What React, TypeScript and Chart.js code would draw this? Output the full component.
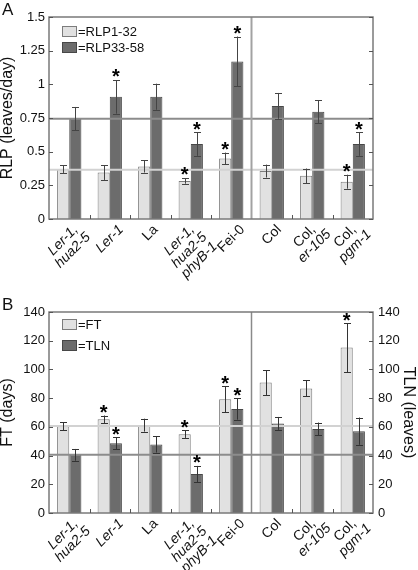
import React, { useEffect, useRef } from "react";
import { Chart, registerables } from "chart.js";
Chart.register(...registerables);

const FONT = "'Liberation Sans', Arial, sans-serif";
Chart.defaults.font.family = FONT;

const categories = ["Ler-1, hua2-5", "Ler-1", "La", "Ler-1, hua2-5 phyB-1", "Fei-0", "Col", "Col, er-105", "Col, pgm-1"];
const categoryLines = [["Ler-1,", "hua2-5"], ["Ler-1"], ["La"], ["Ler-1,", "hua2-5", "phyB-1"], ["Fei-0"], ["Col"], ["Col,", "er-105"], ["Col,", "pgm-1"]];
const categoryItalic = [[true, true], [true], [false], [true, true, true], [false], [false], [false, true], [false, true]];

// Panel A
const rlp1_32 = [0.37, 0.345, 0.39, 0.283, 0.45, 0.356, 0.321, 0.277];
const rlp1_32Err = [0.028, 0.055, 0.045, 0.021, 0.043, 0.048, 0.054, 0.052];
const rlp1_32Star = [false, false, false, true, true, false, false, true];
const rlp33_58 = [0.745, 0.907, 0.908, 0.557, 1.17, 0.84, 0.796, 0.557];
const rlp33_58Err = [0.087, 0.125, 0.097, 0.088, 0.185, 0.096, 0.084, 0.088];
const rlp33_58Star = [false, true, false, true, true, false, false, true];
const rlpRefLines = [0.366, 0.745];
const rlpTickLabels = ["0", "0.25", "0.5", "0.75", "1", "1.25", "1.5"];
const rlpTickValues = [0, 0.25, 0.5, 0.75, 1, 1.25, 1.5];

// Panel B
const ft = [60.4, 65.3, 61.2, 54.9, 79.2, 90.9, 86.8, 115.2];
const ftErr = [2.7, 2.6, 4.5, 2.6, 9.0, 8.7, 5.6, 17.0];
const ftStar = [false, true, false, true, true, false, false, true];
const tln = [40.5, 48.6, 47.7, 27.2, 72.4, 62.4, 58.5, 57.0];
const tlnErr = [4.1, 4.0, 5.6, 5.6, 7.4, 4.5, 4.5, 9.5];
const tlnStar = [false, true, false, true, true, false, false, false];
const ftRefLines = [60.6, 40.5];
const ftTickLabels = ["0", "20", "40", "60", "80", "100", "120", "140"];
const ftTickValues = [0, 20, 40, 60, 80, 100, 120, 140];

const LIGHT = "#e1e1e1";
const LIGHT_BORDER = "#7c7c7c";
const DARK = "#6c6c6c";
const DARK_BORDER = "#474747";
const LABEL_SIZE = 14;
const LABEL_LINE = 14;

function makeDecor(cfg: any) {
  return {
    id: "decor",
    afterDraw(chart: any) {
      const ctx = chart.ctx;
      const a = chart.chartArea;
      const xs = chart.scales.x;
      const ys = chart.scales.y;
      ctx.save();
      // reference lines
      const refCols = ["#d2d2d2", "#8c8c8c"];
      cfg.refLines.forEach((v: number, i: number) => {
        const y = ys.getPixelForValue(v);
        ctx.strokeStyle = refCols[i];
        ctx.lineWidth = 2;
        ctx.beginPath();
        ctx.moveTo(a.left, y);
        ctx.lineTo(a.right, y);
        ctx.stroke();
      });
      // separator
      const sepX = (xs.getPixelForValue(4) + xs.getPixelForValue(5)) / 2;
      ctx.strokeStyle = cfg.sepColor;
      ctx.lineWidth = cfg.sepWidth;
      ctx.beginPath();
      ctx.moveTo(sepX, a.top);
      ctx.lineTo(sepX, a.bottom);
      ctx.stroke();
      // error bars and stars
      cfg.errs.forEach((errArr: number[], d: number) => {
        const meta = chart.getDatasetMeta(d);
        const scale = chart.scales[meta.yAxisID];
        const data = chart.data.datasets[d].data;
        meta.data.forEach((el: any, i: number) => {
          const v = data[i];
          const e = errArr[i];
          const yt = scale.getPixelForValue(v + e);
          const yb = scale.getPixelForValue(v - e);
          const x = Math.round(el.x) + 0.5;
          ctx.strokeStyle = cfg.errColor;
          ctx.lineWidth = 1;
          ctx.beginPath();
          ctx.moveTo(x, yt);
          ctx.lineTo(x, yb);
          ctx.moveTo(x - 3.5, Math.round(yt) + 0.5);
          ctx.lineTo(x + 3.5, Math.round(yt) + 0.5);
          ctx.moveTo(x - 3.5, Math.round(yb) + 0.5);
          ctx.lineTo(x + 3.5, Math.round(yb) + 0.5);
          ctx.stroke();
          if (cfg.stars[d][i]) {
            ctx.fillStyle = "#000";
            ctx.font = "bold 20px " + FONT;
            ctx.textAlign = "center";
            ctx.textBaseline = "alphabetic";
            ctx.fillText("*", el.x, yt - 8 + 0.57 * 20);
          }
        });
      });
      // plot border
      ctx.strokeStyle = "#7a7a7a";
      ctx.lineWidth = 1.5;
      ctx.strokeRect(a.left, a.top, a.right - a.left, a.bottom - a.top);
      // inner y ticks
      ctx.strokeStyle = "#555";
      ctx.lineWidth = 1;
      cfg.tickValues.forEach((v: number) => {
        const y = Math.round(ys.getPixelForValue(v)) + 0.5;
        ctx.beginPath();
        ctx.moveTo(a.left, y);
        ctx.lineTo(a.left + 4, y);
        ctx.moveTo(a.right - 4, y);
        ctx.lineTo(a.right, y);
        ctx.stroke();
      });
      // category boundary ticks
      for (let i = 0; i < categories.length - 1; i++) {
        if (i === 4) continue;
        const x = Math.round((xs.getPixelForValue(i) + xs.getPixelForValue(i + 1)) / 2) + 0.5;
        ctx.beginPath();
        ctx.moveTo(x, a.bottom);
        ctx.lineTo(x, a.bottom - 4);
        ctx.stroke();
      }
      // legend
      const fills = [LIGHT, DARK];
      const borders = [LIGHT_BORDER, DARK_BORDER];
      chart.data.datasets.forEach((ds: any, d: number) => {
        const bx = a.left + 13;
        const by = a.top + cfg.legendOffsets[d];
        ctx.fillStyle = fills[d];
        ctx.fillRect(bx, by, 15, 11);
        ctx.strokeStyle = borders[d];
        ctx.lineWidth = 1;
        ctx.strokeRect(bx + 0.5, by + 0.5, 14, 10);
        ctx.fillStyle = "#111";
        ctx.font = "13px " + FONT;
        ctx.textAlign = "left";
        ctx.textBaseline = "middle";
        ctx.fillText("=" + ds.label, bx + 16, by + 6);
      });
      // category labels (rotated -45deg, centred lines, block centred under category)
      ctx.fillStyle = "#111";
      ctx.textAlign = "center";
      ctx.textBaseline = "middle";
      const c = Math.SQRT1_2;
      const h = LABEL_SIZE * 0.72;
      categoryLines.forEach((lines, i) => {
        const n = lines.length;
        let minX = Infinity, maxX = -Infinity, minY = Infinity;
        const widths = lines.map((ln, j) => {
          ctx.font = (categoryItalic[i][j] ? "italic " : "") + LABEL_SIZE + "px " + FONT;
          return ctx.measureText(ln).width;
        });
        lines.forEach((_ln, j) => {
          const k = (j - (n - 1) / 2) * LABEL_LINE;
          const w = widths[j];
          for (const u of [-w / 2, w / 2]) {
            for (const v of [k - h / 2, k + h / 2]) {
              const sx = c * (u + v);
              const sy = c * (v - u);
              minX = Math.min(minX, sx);
              maxX = Math.max(maxX, sx);
              minY = Math.min(minY, sy);
            }
          }
        });
        const ax = xs.getPixelForValue(i) - (minX + maxX) / 2;
        const ay = a.bottom + 5 - minY;
        ctx.save();
        ctx.translate(ax, ay);
        ctx.rotate(-Math.PI / 4);
        lines.forEach((ln, j) => {
          const k = (j - (n - 1) / 2) * LABEL_LINE;
          ctx.font = (categoryItalic[i][j] ? "italic " : "") + LABEL_SIZE + "px " + FONT;
          ctx.fillText(ln, 0, k);
        });
        ctx.restore();
      });
      // panel label
      ctx.fillStyle = "#111";
      ctx.font = "17px " + FONT;
      ctx.textAlign = "left";
      ctx.textBaseline = "top";
      ctx.fillText(cfg.panel, 2, cfg.panelY);
      ctx.restore();
    },
  };
}

function ChartA() {
  const ref = useRef<HTMLCanvasElement>(null);
  useEffect(() => {
    const chart = new Chart(ref.current as HTMLCanvasElement, {
      type: "bar",
      data: {
        labels: categories,
        datasets: [
          { label: "RLP1-32", data: rlp1_32, backgroundColor: LIGHT, borderColor: LIGHT_BORDER, borderWidth: 1, yAxisID: "y" },
          { label: "RLP33-58", data: rlp33_58, backgroundColor: DARK, borderColor: DARK_BORDER, borderWidth: 1, yAxisID: "y" },
        ],
      },
      options: {
        responsive: false,
        animation: false,
        events: [],
        layout: { padding: { top: 17, right: 45, left: 0, bottom: 0 } },
        plugins: { legend: { display: false }, tooltip: { enabled: false } },
        datasets: { bar: { categoryPercentage: 0.6, barPercentage: 1 } },
        scales: {
          x: {
            grid: { display: false, drawTicks: false },
            border: { display: false },
            ticks: { display: false },
            afterFit: (s: any) => { s.height = 66; },
          },
          y: {
            min: 0,
            max: 1.5,
            grid: { display: false, drawTicks: false },
            border: { display: false },
            ticks: { stepSize: 0.25, padding: 4, color: "#111", font: { size: 13 }, callback: (_v: any, i: number) => rlpTickLabels[i] },
            title: { display: true, text: "RLP (leaves/day)", color: "#111", font: { size: 16 }, padding: { top: -2, bottom: 0 } },
            afterFit: (s: any) => { s.width = 49; },
          },
        },
      } as any,
      plugins: [
        makeDecor({
          refLines: rlpRefLines,
          errs: [rlp1_32Err, rlp33_58Err],
          stars: [rlp1_32Star, rlp33_58Star],
          tickValues: rlpTickValues,
          legendOffsets: [9, 25],
          sepColor: "#a2a2a2",
          sepWidth: 2,
          errColor: "#444",
          panel: "A",
          panelY: 2,
        }),
      ],
    });
    return () => chart.destroy();
  }, []);
  return <canvas ref={ref} width={418} height={285} style={{ display: "block", position: "absolute", left: 0, top: 0 }} />;
}

function ChartB() {
  const ref = useRef<HTMLCanvasElement>(null);
  useEffect(() => {
    const chart = new Chart(ref.current as HTMLCanvasElement, {
      type: "bar",
      data: {
        labels: categories,
        datasets: [
          { label: "FT", data: ft, backgroundColor: LIGHT, borderColor: LIGHT_BORDER, borderWidth: 1, yAxisID: "y" },
          { label: "TLN", data: tln, backgroundColor: DARK, borderColor: DARK_BORDER, borderWidth: 1, yAxisID: "y2" },
        ],
      },
      options: {
        responsive: false,
        animation: false,
        events: [],
        layout: { padding: { top: 27, right: 0, left: 0, bottom: 0 } },
        plugins: { legend: { display: false }, tooltip: { enabled: false } },
        datasets: { bar: { categoryPercentage: 0.6, barPercentage: 1 } },
        scales: {
          x: {
            grid: { display: false, drawTicks: false },
            border: { display: false },
            ticks: { display: false },
            afterFit: (s: any) => { s.height = 57; },
          },
          y: {
            min: 0,
            max: 140,
            grid: { display: false, drawTicks: false },
            border: { display: false },
            ticks: { stepSize: 20, padding: 4, color: "#111", font: { size: 13 }, callback: (_v: any, i: number) => ftTickLabels[i] },
            title: { display: true, text: "FT (days)", color: "#111", font: { size: 16 }, padding: { top: -2, bottom: 0 } },
            afterFit: (s: any) => { s.width = 49; },
          },
          y2: {
            position: "right",
            min: 0,
            max: 140,
            grid: { display: false, drawTicks: false },
            border: { display: false },
            ticks: { stepSize: 20, padding: 5, color: "#111", font: { size: 13 }, callback: (_v: any, i: number) => ftTickLabels[i] },
            title: { display: true, text: "TLN (leaves)", color: "#111", font: { size: 16 }, padding: { top: 0, bottom: 0 } },
            afterFit: (s: any) => { s.width = 45; },
          },
        },
      } as any,
      plugins: [
        makeDecor({
          refLines: ftRefLines,
          errs: [ftErr, tlnErr],
          stars: [ftStar, tlnStar],
          tickValues: ftTickValues,
          legendOffsets: [7, 28],
          sepColor: "#8a8a8a",
          sepWidth: 1.5,
          errColor: "#333",
          panel: "B",
          panelY: 12,
        }),
      ],
    });
    return () => chart.destroy();
  }, []);
  return <canvas ref={ref} width={418} height={285} style={{ display: "block", position: "absolute", left: 0, top: 285 }} />;
}

export default function App() {
  return (
    <div style={{ position: "absolute", left: 0, top: 0, width: 418, height: 570, background: "#fff", overflow: "hidden" }}>
      <ChartA />
      <ChartB />
    </div>
  );
}
